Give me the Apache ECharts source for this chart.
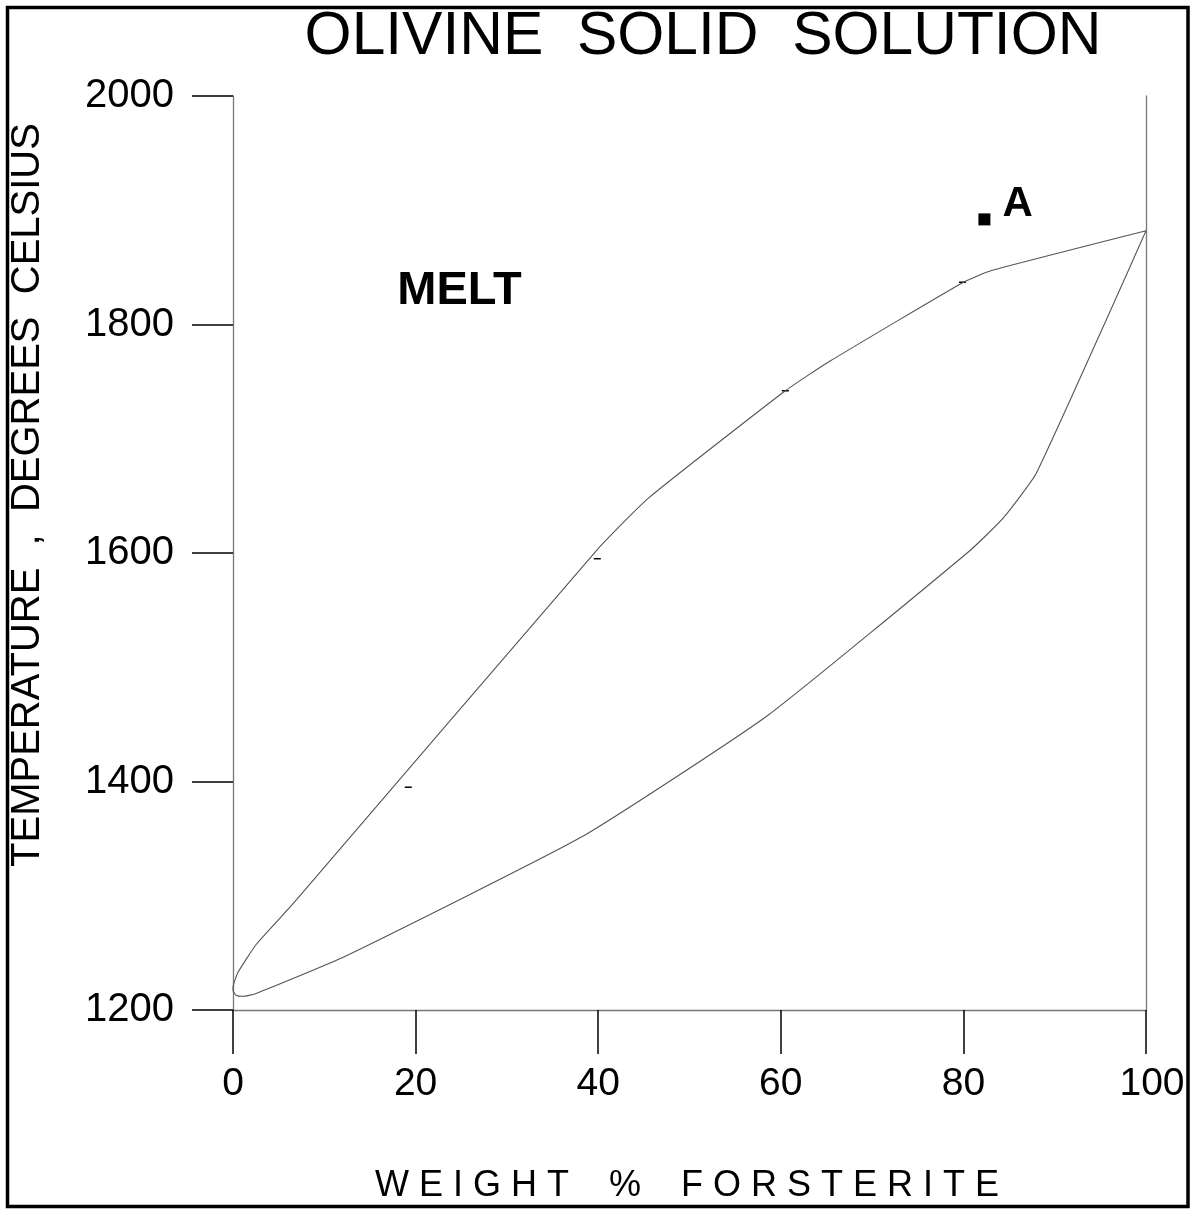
<!DOCTYPE html>
<html>
<head>
<meta charset="utf-8">
<script src="https://cdn.jsdelivr.net/npm/echarts@6/dist/echarts.min.js"></script>
<style>
html,body{margin:0;padding:0;background:#fff;}
#chart{width:1193px;height:1209px;}
</style>
</head>
<body>
<div id="chart"></div>
<script>
// Liquidus (upper curve), weight % forsterite vs temperature (deg C)
const liquidusX = [0, 0.55, 2.6, 6.8, 39.9, 45.5, 60.5, 65.4, 80, 83, 100];
const liquidusT = [1220, 1233, 1258, 1295, 1603, 1648, 1742, 1768, 1837, 1847, 1882];
// Solidus (lower curve)
const solidusX = [0, 0.33, 1.1, 2.4, 12.3, 38.3, 58.6, 80.7, 84.3, 88, 100];
const solidusT = [1217, 1213, 1212, 1214, 1247, 1352, 1458, 1602, 1630, 1670, 1882];
// small dash marks near the liquidus
const dashX = [19.2, 39.9, 60.5, 79.9];
const dashT = [1395, 1595, 1742, 1837];
// point A
const pointA = [82.3, 1892];
const meltLabelPos = [18, 1831];
const xTicks = [0, 20, 40, 60, 80, 100];
const yTicks = [1200, 1400, 1600, 1800, 2000];

const loop = [];
for (let i = liquidusX.length - 1; i >= 0; i--) loop.push([liquidusX[i], liquidusT[i]]);
for (let i = 0; i < solidusX.length; i++) loop.push([solidusX[i], solidusT[i]]);

const font = 'Liberation Sans, Arial, sans-serif';
const chart = echarts.init(document.getElementById('chart'), null, {renderer: 'canvas'});
chart.setOption({
  backgroundColor: '#fff',
  animation: false,
  title: {
    text: 'OLIVINE  SOLID  SOLUTION',
    left: 698, top: 2, textAlign: 'center',
    textStyle: {fontFamily: font, fontSize: 60.5, fontWeight: 'normal', color: '#000'}
  },
  grid: {left: 233, right: 47, top: 96, bottom: 199},
  xAxis: {
    type: 'value', min: 0, max: 100, interval: 20,
    axisLine: {show: true, lineStyle: {color: '#777', width: 1.3}},
    axisTick: {show: true, length: 44, lineStyle: {color: '#000', width: 1.5}},
    splitLine: {show: false},
    axisLabel: {
      margin: 55, fontFamily: font, fontSize: 39, color: '#000',
      formatter: v => v === 100 ? '{r|100}' : String(v),
      rich: {r: {fontFamily: font, fontSize: 39, color: '#000', padding: [0, 0, 0, 12]}}
    }
  },
  yAxis: [{
    type: 'value', min: 1200, max: 2000, interval: 200,
    axisLine: {show: true, lineStyle: {color: '#777', width: 1.3}},
    axisTick: {show: true, length: 41, lineStyle: {color: '#000', width: 1.5}},
    splitLine: {show: false},
    axisLabel: {margin: 59, fontFamily: font, fontSize: 40, color: '#000', padding: [10, 0, 0, 0], formatter: v => String(v)}
  }, {
    type: 'value', min: 1200, max: 2000, position: 'right',
    axisLine: {show: true, lineStyle: {color: '#777', width: 1.3}},
    axisTick: {show: false}, axisLabel: {show: false}, splitLine: {show: false}
  }],
  graphic: [
    {type: 'rect', shape: {x: 7.5, y: 7.5, width: 1180.5, height: 1199}, style: {fill: 'none', stroke: '#000', lineWidth: 3.5}, z: 100},
    {type: 'text', x: 28, y: 495, rotation: Math.PI / 2,
      style: {text: 'TEMPERATURE  ,  DEGREES  CELSIUS', font: '40px ' + font, fill: '#000', textAlign: 'center', textVerticalAlign: 'middle'}},
    {type: 'text', x: 687, y: 1186,
      style: {text: 'W E I G H T    %    F O R S T E R I T E', font: '36px ' + font, fill: '#000', textAlign: 'center', textVerticalAlign: 'middle'}}
  ],
  series: [
    {
      type: 'line', data: loop, smooth: 0.15, symbol: 'none',
      lineStyle: {color: '#555', width: 1.1}
    },
    {
      type: 'scatter', data: dashX.map((x, i) => [x, dashT[i]]),
      symbol: 'rect', symbolSize: [7, 1.5], itemStyle: {color: '#000', opacity: 1}
    },
    {
      type: 'scatter', data: [pointA], symbol: 'rect', symbolSize: 12,
      itemStyle: {color: '#000', opacity: 1},
      label: {show: true, formatter: 'A', position: 'right', distance: 12, offset: [0, -15],
        fontFamily: font, fontSize: 42, fontWeight: 'bold', color: '#000'}
    },
    {
      type: 'scatter', data: [meltLabelPos], symbolSize: 0, itemStyle: {opacity: 1},
      label: {show: true, formatter: 'MELT', position: 'right', distance: 0, offset: [0, 2],
        fontFamily: font, fontSize: 47, fontWeight: 'bold', color: '#000'}
    }
  ]
});
</script>
</body>
</html>
